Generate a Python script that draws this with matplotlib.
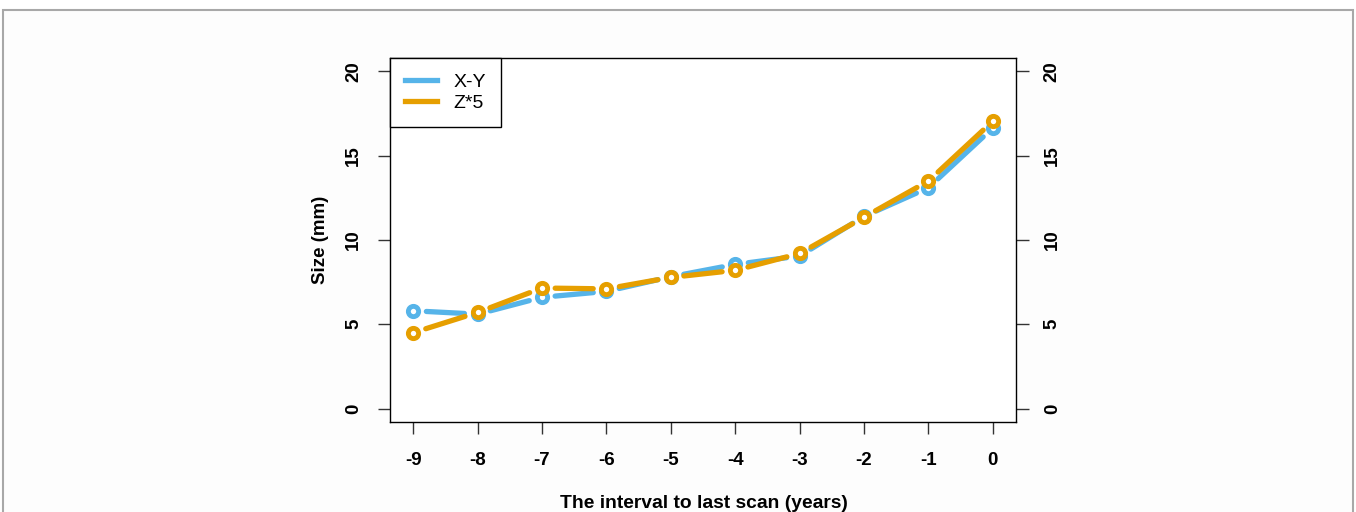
import matplotlib
matplotlib.use("Agg")
import matplotlib.pyplot as plt
from matplotlib.patches import Rectangle
from matplotlib.lines import Line2D

plt.rcParams["font.family"] = ["Liberation Sans", "DejaVu Sans"]

# data
years = [-9, -8, -7, -6, -5, -4, -3, -2, -1, 0]
size_xy = [5.8, 5.6, 6.6, 6.95, 7.82, 8.55, 9.05, 11.4, 13.1, 16.65]
size_z5 = [4.5, 5.7, 7.15, 7.1, 7.78, 8.2, 9.2, 11.35, 13.5, 17.05]
series_names = ["X-Y", "Z*5"]
y_ticks = [0, 5, 10, 15, 20]

C_BLUE = "#56B4E9"
C_ORANGE = "#E69F00"

fig = plt.figure(figsize=(13.56, 5.12), dpi=100)
fig.patch.set_facecolor("white")

# light frame around the figure
fig.patches.append(Rectangle((3 / 1356, -0.05), 1350 / 1356, 1.05 - 10 / 512,
                             transform=fig.transFigure, facecolor="#fdfdfd",
                             edgecolor="#a8a8a8", linewidth=1.5, zorder=-10))

ax = fig.add_axes([390 / 1356, 1 - 422 / 512, 626 / 1356, 364 / 512])
ax.set_facecolor("white")
ax.set_xlim(-9.36, 0.36)
ax.set_ylim(-0.8, 20.8)


def draw_series(xs, ys, color):
    # R type="b": segments with gaps around the points
    for i in range(len(xs) - 1):
        ax.annotate("", xy=(xs[i + 1], ys[i + 1]), xytext=(xs[i], ys[i]),
                    arrowprops=dict(arrowstyle="-", color=color, lw=3.8,
                                    shrinkA=9.5, shrinkB=9.5, capstyle="round"),
                    zorder=3)
    ax.plot(xs, ys, linestyle="none", marker="o", markersize=7.4,
            markerfacecolor="white", markeredgecolor=color,
            markeredgewidth=3.5, zorder=4)


draw_series(years, size_xy, C_BLUE)
draw_series(years, size_z5, C_ORANGE)

for s in ax.spines.values():
    s.set_linewidth(1.0)
    s.set_color("black")

ax.set_xticks(years)
ax.set_xticklabels([str(v) for v in years])
ax.set_yticks(y_ticks)
ax.set_yticklabels([str(v) for v in y_ticks])
ax.tick_params(axis="x", direction="out", length=8.5, width=1, pad=13,
               labelsize=13.5, color="#333333")
ax.tick_params(axis="y", direction="out", length=9, width=1, pad=11,
               labelsize=13.5, labelrotation=90, right=True, labelright=True,
               color="#333333")
for lab in ax.get_xticklabels() + ax.get_yticklabels():
    lab.set_fontweight("bold")
for lab in ax.get_yticklabels():
    lab.set_va("center")

ax.set_ylabel("Size (mm)", fontsize=13.5, fontweight="bold", labelpad=12)
fig.text(704 / 1356, 1 - 503 / 512, "The interval to last scan (years)",
         ha="center", va="center", fontsize=13.9, fontweight="bold")

handles = [Line2D([], [], color=C_BLUE, lw=3.8),
           Line2D([], [], color=C_ORANGE, lw=3.8)]
leg = ax.legend(handles, series_names, loc="upper left", borderaxespad=0,
                fancybox=False, framealpha=1, edgecolor="black",
                fontsize=14, handlelength=1.65, handletextpad=0.82,
                borderpad=0.78, labelspacing=0.2)
leg.get_frame().set_linewidth(1.0)

fig.savefig("out.png", dpi=100, facecolor="white")
